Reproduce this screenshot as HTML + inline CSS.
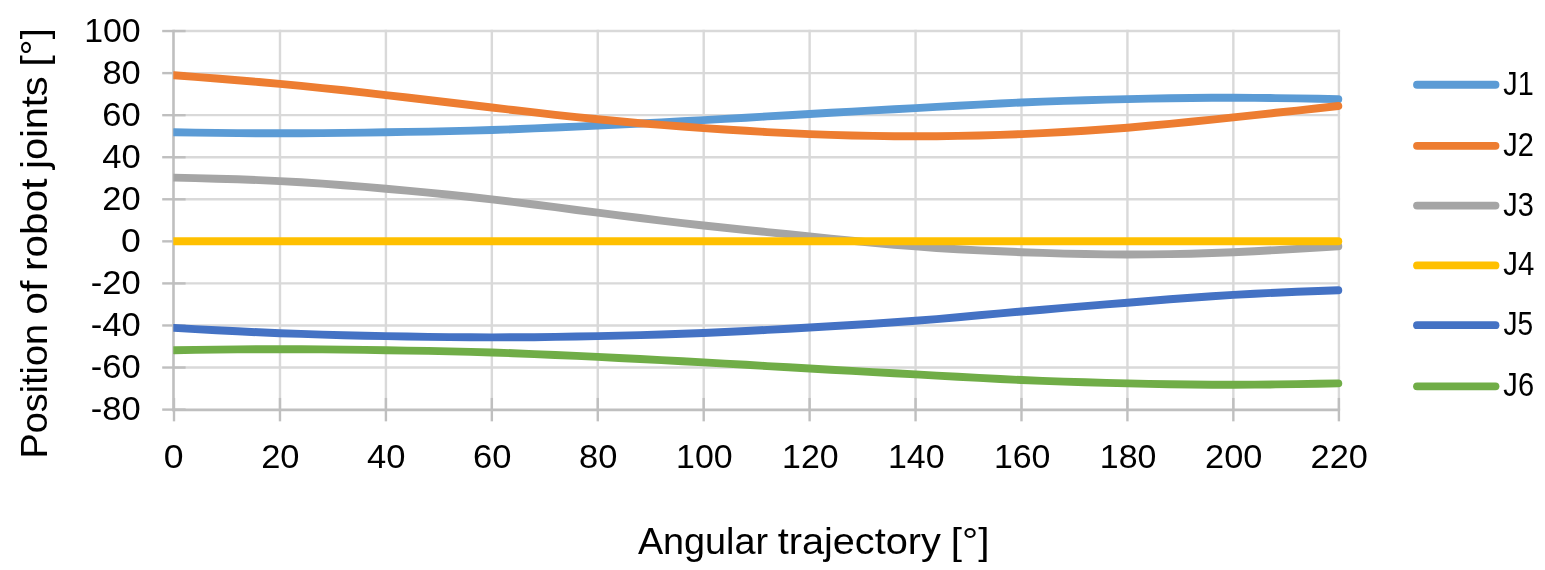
<!DOCTYPE html>
<html lang="en">
<head>
<meta charset="utf-8">
<title>Position of robot joints</title>
<style>
html,body{margin:0;padding:0;background:#fff;}
body{width:1545px;height:570px;overflow:hidden;}
svg{display:block;}
text{font-family:"Liberation Sans",sans-serif;fill:#000;font-kerning:none;white-space:pre;}
.tick{font-size:33.9px;}
.title{font-size:37.6px;}
</style>
</head>
<body>
<svg width="1545" height="570" viewBox="0 0 1545 570">
<rect x="0" y="0" width="1545" height="570" fill="#ffffff"/>
<defs><clipPath id="plotclip"><rect x="173.3" y="0" width="1545" height="570"/></clipPath></defs>

<g stroke="#D9D9D9" stroke-width="2.4" fill="none">
<line x1="173.50" y1="367.53" x2="1340.10" y2="367.53"/>
<line x1="173.50" y1="325.47" x2="1340.10" y2="325.47"/>
<line x1="173.50" y1="283.41" x2="1340.10" y2="283.41"/>
<line x1="173.50" y1="241.35" x2="1340.10" y2="241.35"/>
<line x1="173.50" y1="199.29" x2="1340.10" y2="199.29"/>
<line x1="173.50" y1="157.23" x2="1340.10" y2="157.23"/>
<line x1="173.50" y1="115.17" x2="1340.10" y2="115.17"/>
<line x1="173.50" y1="73.11" x2="1340.10" y2="73.11"/>
<line x1="173.50" y1="31.05" x2="1340.10" y2="31.05"/>
<line x1="279.98" y1="29.85" x2="279.98" y2="409.85"/>
<line x1="385.91" y1="29.85" x2="385.91" y2="409.85"/>
<line x1="491.84" y1="29.85" x2="491.84" y2="409.85"/>
<line x1="597.77" y1="29.85" x2="597.77" y2="409.85"/>
<line x1="703.70" y1="29.85" x2="703.70" y2="409.85"/>
<line x1="809.63" y1="29.85" x2="809.63" y2="409.85"/>
<line x1="915.56" y1="29.85" x2="915.56" y2="409.85"/>
<line x1="1021.49" y1="29.85" x2="1021.49" y2="409.85"/>
<line x1="1127.42" y1="29.85" x2="1127.42" y2="409.85"/>
<line x1="1233.35" y1="29.85" x2="1233.35" y2="409.85"/>
<line x1="1338.90" y1="29.85" x2="1338.90" y2="409.85"/>
</g>
<g stroke="#BFBFBF" stroke-width="2.6" fill="none">
<line x1="173.50" y1="29.85" x2="173.50" y2="411.15"/>
<line x1="172.20" y1="409.85" x2="1340.10" y2="409.85"/>
</g><g stroke="#BFBFBF" stroke-width="2.4" fill="none">
<line x1="162.20" y1="409.60" x2="185.60" y2="409.60"/>
<line x1="162.20" y1="367.53" x2="185.60" y2="367.53"/>
<line x1="162.20" y1="325.47" x2="185.60" y2="325.47"/>
<line x1="162.20" y1="283.41" x2="185.60" y2="283.41"/>
<line x1="162.20" y1="241.35" x2="185.60" y2="241.35"/>
<line x1="162.20" y1="199.29" x2="185.60" y2="199.29"/>
<line x1="162.20" y1="157.23" x2="185.60" y2="157.23"/>
<line x1="162.20" y1="115.17" x2="185.60" y2="115.17"/>
<line x1="162.20" y1="73.11" x2="185.60" y2="73.11"/>
<line x1="162.20" y1="31.05" x2="185.60" y2="31.05"/>
<line x1="174.00" y1="397.95" x2="174.00" y2="421.35"/>
<line x1="279.98" y1="397.95" x2="279.98" y2="421.35"/>
<line x1="385.91" y1="397.95" x2="385.91" y2="421.35"/>
<line x1="491.84" y1="397.95" x2="491.84" y2="421.35"/>
<line x1="597.77" y1="397.95" x2="597.77" y2="421.35"/>
<line x1="703.70" y1="397.95" x2="703.70" y2="421.35"/>
<line x1="809.63" y1="397.95" x2="809.63" y2="421.35"/>
<line x1="915.56" y1="397.95" x2="915.56" y2="421.35"/>
<line x1="1021.49" y1="397.95" x2="1021.49" y2="421.35"/>
<line x1="1127.42" y1="397.95" x2="1127.42" y2="421.35"/>
<line x1="1233.35" y1="397.95" x2="1233.35" y2="421.35"/>
<line x1="1338.90" y1="397.95" x2="1338.90" y2="421.35"/>
</g>
<g fill="none" stroke-linecap="round" stroke-linejoin="round" clip-path="url(#plotclip)">
<polyline stroke="#5B9BD5" stroke-width="7.9" points="174.0,132.3 195.2,132.6 216.4,132.9 237.6,133.1 258.7,133.3 279.9,133.3 301.1,133.3 322.3,133.1 343.5,132.9 364.7,132.6 385.9,132.3 407.0,131.9 428.2,131.6 449.4,131.1 470.6,130.6 491.8,130.0 513.0,129.3 534.2,128.4 555.3,127.5 576.5,126.6 597.7,125.6 618.9,124.5 640.1,123.5 661.3,122.4 682.5,121.2 703.6,120.1 724.8,118.9 746.0,117.7 767.2,116.4 788.4,115.2 809.6,114.0 830.8,112.8 852.0,111.6 873.1,110.4 894.3,109.3 915.5,108.1 936.7,106.9 957.9,105.7 979.1,104.6 1000.3,103.5 1021.4,102.5 1042.6,101.6 1063.8,100.9 1085.0,100.2 1106.2,99.6 1127.4,99.1 1148.6,98.6 1169.7,98.2 1190.9,98.0 1212.1,97.8 1233.3,97.8 1254.5,97.9 1275.7,98.1 1296.9,98.4 1318.0,98.7 1338.3,99.1"/>
<polyline stroke="#ED7D31" stroke-width="7.9" points="174.0,75.3 195.2,76.9 216.4,78.5 237.6,80.2 258.7,82.0 279.9,83.9 301.1,85.9 322.3,88.1 343.5,90.3 364.7,92.7 385.9,95.1 407.0,97.5 428.2,100.0 449.4,102.5 470.6,105.0 491.8,107.5 513.0,110.0 534.2,112.4 555.3,114.8 576.5,117.1 597.7,119.2 618.9,121.3 640.1,123.2 661.3,124.9 682.5,126.5 703.6,128.1 724.8,129.5 746.0,130.8 767.2,132.1 788.4,133.1 809.6,134.1 830.8,134.9 852.0,135.5 873.1,135.9 894.3,136.2 915.5,136.3 936.7,136.2 957.9,135.9 979.1,135.5 1000.3,134.9 1021.4,134.1 1042.6,133.1 1063.8,132.0 1085.0,130.8 1106.2,129.3 1127.4,127.7 1148.6,125.8 1169.7,123.9 1190.9,121.8 1212.1,119.6 1233.3,117.4 1254.5,115.1 1275.7,112.8 1296.9,110.6 1318.0,108.3 1338.3,106.0"/>
<polyline stroke="#A5A5A5" stroke-width="7.9" points="174.0,177.6 195.2,178.1 216.4,178.7 237.6,179.3 258.7,180.1 279.9,181.1 301.1,182.3 322.3,183.6 343.5,185.2 364.7,186.9 385.9,188.7 407.0,190.6 428.2,192.6 449.4,194.7 470.6,197.0 491.8,199.4 513.0,201.9 534.2,204.5 555.3,207.2 576.5,210.0 597.7,212.7 618.9,215.4 640.1,218.0 661.3,220.6 682.5,223.1 703.6,225.5 724.8,227.8 746.0,230.0 767.2,232.1 788.4,234.3 809.6,236.4 830.8,238.6 852.0,240.7 873.1,242.8 894.3,244.7 915.5,246.4 936.7,248.0 957.9,249.3 979.1,250.4 1000.3,251.3 1021.4,252.2 1042.6,252.9 1063.8,253.6 1085.0,254.0 1106.2,254.4 1127.4,254.5 1148.6,254.4 1169.7,254.1 1190.9,253.7 1212.1,253.0 1233.3,252.2 1254.5,251.2 1275.7,250.1 1296.9,248.9 1318.0,247.6 1338.3,246.3"/>
<polyline stroke="#FFC000" stroke-width="7.9" points="174.0,241.2 1338.3,241.2"/>
<polyline stroke="#4472C4" stroke-width="7.9" points="174.0,327.9 195.2,329.1 216.4,330.2 237.6,331.3 258.7,332.3 279.9,333.2 301.1,333.9 322.3,334.6 343.5,335.2 364.7,335.7 385.9,336.1 407.0,336.5 428.2,336.9 449.4,337.1 470.6,337.3 491.8,337.4 513.0,337.3 534.2,337.2 555.3,336.9 576.5,336.5 597.7,336.1 618.9,335.6 640.1,335.1 661.3,334.5 682.5,333.8 703.6,333.0 724.8,332.0 746.0,331.0 767.2,329.9 788.4,328.7 809.6,327.5 830.8,326.3 852.0,325.0 873.1,323.7 894.3,322.3 915.5,320.8 936.7,319.1 957.9,317.2 979.1,315.3 1000.3,313.4 1021.4,311.5 1042.6,309.7 1063.8,307.9 1085.0,306.1 1106.2,304.4 1127.4,302.7 1148.6,301.0 1169.7,299.3 1190.9,297.7 1212.1,296.2 1233.3,294.9 1254.5,293.7 1275.7,292.7 1296.9,291.8 1318.0,291.0 1338.3,290.3"/>
<polyline stroke="#70AD47" stroke-width="7.9" points="174.0,350.2 195.2,349.9 216.4,349.6 237.6,349.4 258.7,349.2 279.9,349.2 301.1,349.2 322.3,349.4 343.5,349.6 364.7,349.9 385.9,350.2 407.0,350.6 428.2,350.9 449.4,351.4 470.6,351.9 491.8,352.5 513.0,353.2 534.2,354.1 555.3,355.0 576.5,355.9 597.7,356.9 618.9,358.0 640.1,359.0 661.3,360.1 682.5,361.3 703.6,362.4 724.8,363.6 746.0,364.8 767.2,366.1 788.4,367.3 809.6,368.5 830.8,369.7 852.0,370.9 873.1,372.1 894.3,373.2 915.5,374.4 936.7,375.6 957.9,376.8 979.1,377.9 1000.3,379.0 1021.4,380.0 1042.6,380.9 1063.8,381.6 1085.0,382.3 1106.2,382.9 1127.4,383.4 1148.6,383.9 1169.7,384.3 1190.9,384.5 1212.1,384.7 1233.3,384.7 1254.5,384.6 1275.7,384.4 1296.9,384.1 1318.0,383.8 1338.3,383.4"/>
</g>
<g class="tick">
<text x="90.82" y="420.35" textLength="49.91" lengthAdjust="spacingAndGlyphs">-80</text>
<text x="90.82" y="377.85" textLength="49.91" lengthAdjust="spacingAndGlyphs">-60</text>
<text x="90.82" y="335.85" textLength="49.91" lengthAdjust="spacingAndGlyphs">-40</text>
<text x="90.82" y="293.85" textLength="49.91" lengthAdjust="spacingAndGlyphs">-20</text>
<text x="120.97" y="251.85" textLength="19.80" lengthAdjust="spacingAndGlyphs">0</text>
<text x="102.39" y="209.85" textLength="38.34" lengthAdjust="spacingAndGlyphs">20</text>
<text x="102.28" y="167.85" textLength="38.45" lengthAdjust="spacingAndGlyphs">40</text>
<text x="102.37" y="125.85" textLength="38.36" lengthAdjust="spacingAndGlyphs">60</text>
<text x="102.44" y="83.85" textLength="38.29" lengthAdjust="spacingAndGlyphs">80</text>
<text x="84.13" y="41.85" textLength="56.57" lengthAdjust="spacingAndGlyphs">100</text>
</g>
<g class="tick">
<text x="163.80" y="468.40" textLength="19.80" lengthAdjust="spacingAndGlyphs">0</text>
<text x="261.17" y="468.40" textLength="38.34" lengthAdjust="spacingAndGlyphs">20</text>
<text x="367.00" y="468.40" textLength="38.45" lengthAdjust="spacingAndGlyphs">40</text>
<text x="473.01" y="468.40" textLength="38.36" lengthAdjust="spacingAndGlyphs">60</text>
<text x="579.02" y="468.40" textLength="38.29" lengthAdjust="spacingAndGlyphs">80</text>
<text x="676.12" y="468.40" textLength="56.57" lengthAdjust="spacingAndGlyphs">100</text>
<text x="782.05" y="468.40" textLength="56.57" lengthAdjust="spacingAndGlyphs">120</text>
<text x="887.98" y="468.40" textLength="56.57" lengthAdjust="spacingAndGlyphs">140</text>
<text x="993.91" y="468.40" textLength="56.57" lengthAdjust="spacingAndGlyphs">160</text>
<text x="1099.84" y="468.40" textLength="56.57" lengthAdjust="spacingAndGlyphs">180</text>
<text x="1205.07" y="468.40" textLength="57.29" lengthAdjust="spacingAndGlyphs">200</text>
<text x="1310.62" y="468.40" textLength="57.29" lengthAdjust="spacingAndGlyphs">220</text>
</g>
<text class="title" y="553.8"><tspan x="637.93" textLength="130.12" lengthAdjust="spacingAndGlyphs">Angular</tspan> <tspan x="777.65" textLength="163.28" lengthAdjust="spacingAndGlyphs">trajectory</tspan> <tspan x="950.82" textLength="38.63" lengthAdjust="spacingAndGlyphs">[°]</tspan></text>
<text class="title" transform="translate(46.9,458.37) rotate(-90)" y="0"><tspan x="-0.14" textLength="134.48" lengthAdjust="spacingAndGlyphs">Position</tspan> <tspan x="143.53" textLength="34.25" lengthAdjust="spacingAndGlyphs">of</tspan> <tspan x="187.41" textLength="92.45" lengthAdjust="spacingAndGlyphs">robot</tspan> <tspan x="289.48" textLength="92.62" lengthAdjust="spacingAndGlyphs">joints</tspan> <tspan x="391.75" textLength="38.63" lengthAdjust="spacingAndGlyphs">[°]</tspan></text>
<g fill="none" stroke-linecap="round" stroke-width="7.9">
<line x1="1417.05" y1="84.75" x2="1495.45" y2="84.75" stroke="#5B9BD5"/>
<line x1="1417.05" y1="145.85" x2="1495.45" y2="145.85" stroke="#ED7D31"/>
<line x1="1417.05" y1="205.60" x2="1495.45" y2="205.60" stroke="#A5A5A5"/>
<line x1="1417.05" y1="265.40" x2="1495.45" y2="265.40" stroke="#FFC000"/>
<line x1="1417.05" y1="325.15" x2="1495.45" y2="325.15" stroke="#4472C4"/>
<line x1="1417.05" y1="386.35" x2="1495.45" y2="386.35" stroke="#70AD47"/>
</g>
<g class="tick">
<text x="1503.37" y="94.50" textLength="30.44" lengthAdjust="spacingAndGlyphs">J1</text>
<text x="1503.37" y="155.80" textLength="30.58" lengthAdjust="spacingAndGlyphs">J2</text>
<text x="1503.37" y="215.60" textLength="30.56" lengthAdjust="spacingAndGlyphs">J3</text>
<text x="1503.36" y="275.40" textLength="30.96" lengthAdjust="spacingAndGlyphs">J4</text>
<text x="1503.38" y="335.30" textLength="29.67" lengthAdjust="spacingAndGlyphs">J5</text>
<text x="1503.37" y="396.10" textLength="30.69" lengthAdjust="spacingAndGlyphs">J6</text>
</g>
</svg>
</body>
</html>
